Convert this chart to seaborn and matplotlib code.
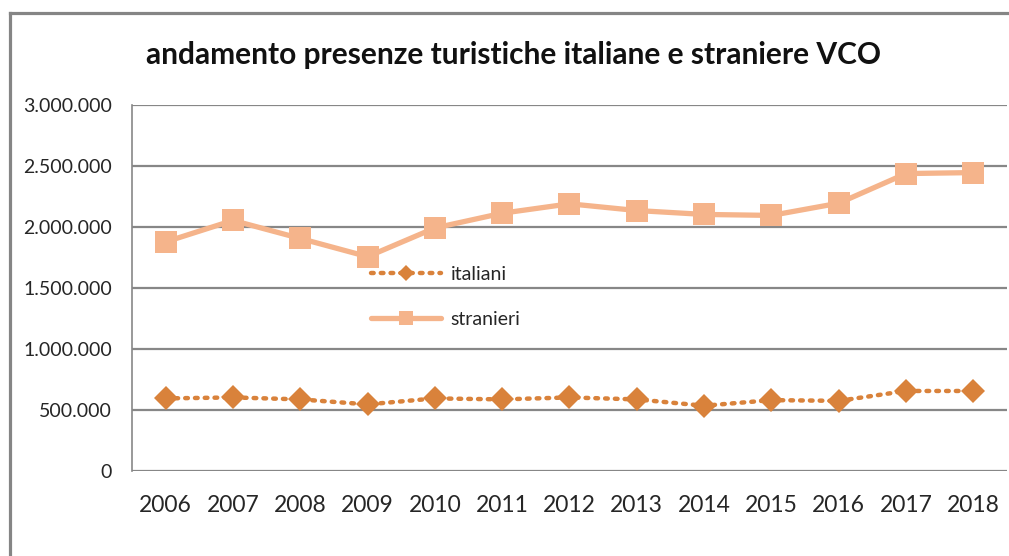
import matplotlib
matplotlib.use("Agg")
import matplotlib.pyplot as plt
from matplotlib.lines import Line2D
from matplotlib.ticker import FuncFormatter, FixedLocator
import seaborn as sns
import pandas as pd

years = [2006, 2007, 2008, 2009, 2010, 2011, 2012, 2013, 2014, 2015, 2016, 2017, 2018]
italiani = [595000, 603000, 587000, 546000, 595000, 587000, 603000, 587000, 535000, 581000, 575000, 656000, 656000]
stranieri = [1878000, 2054000, 1906000, 1757000, 1992000, 2113000, 2190000, 2135000, 2103000, 2095000, 2195000, 2438000, 2446000]
title = "andamento presenze turistiche italiane e straniere VCO"
yticks = [0, 500000, 1000000, 1500000, 2000000, 2500000, 3000000]

sns.set_theme(style="white")
plt.rcParams['font.family'] = ['Lato', 'DejaVu Sans']

c_ita = "#D9823B"
c_str = "#F5B48B"
grid_c = "#878787"

fig = plt.figure(figsize=(10.09, 5.56), dpi=100)
ax = fig.add_axes([132/1009, 1-471/556, 1-132/1009 - 2/1009, (471-105)/556])

df_i = pd.DataFrame({"anno": years, "valore": italiani})
df_s = pd.DataFrame({"anno": years, "valore": stranieri})

sns.lineplot(data=df_i, x="anno", y="valore", ax=ax, color=c_ita, linewidth=3.2,
             linestyle=(0, (0.6, 1.6)), dash_capstyle="round", marker="D", markersize=12.5,
             markeredgewidth=0, label="italiani")
sns.lineplot(data=df_s, x="anno", y="valore", ax=ax, color=c_str, linewidth=3.8,
             marker="s", markersize=16, markeredgewidth=0, label="stranieri")

ax.set_xlim(2005.5, 2018.5)
ax.set_ylim(0, 3000000)
ax.yaxis.set_major_locator(FixedLocator(yticks))
ax.yaxis.set_major_formatter(FuncFormatter(lambda v, p: f"{int(v):,}".replace(",", ".")))
ax.set_xticks(years)
ax.set_xticklabels([str(y) for y in years])
ax.grid(axis="y", color=grid_c, linewidth=1.6)
ax.set_axisbelow(True)
for s in ["top", "right", "bottom"]:
    ax.spines[s].set_visible(False)
ax.spines["left"].set_color(grid_c)
ax.spines["left"].set_linewidth(1.2)
ax.tick_params(axis="both", length=0, colors="#262626")
ax.tick_params(axis="y", pad=14.5, labelsize=14)
ax.tick_params(axis="x", pad=17, labelsize=16.5)
ax.set_xlabel("")
ax.set_ylabel("")

leg = ax.legend(loc="center left", bbox_to_anchor=(0.253, 0.475), frameon=False,
                fontsize=14, handlelength=3.6, labelspacing=1.45, handletextpad=0.5,
                markerscale=0.65)
for t in leg.get_texts():
    t.set_color("#262626")

fig.text(514/1009, 1-55/556, title, ha="center", va="center", fontsize=21.5,
         fontweight="bold", color="#111111")

x0 = 9.5/1009
y0 = 1 - 13/556
fig.add_artist(Line2D([x0, x0], [-0.01, y0], transform=fig.transFigure,
                      color="#858585", linewidth=2.3, solid_capstyle="projecting"))
fig.add_artist(Line2D([x0, 1.01], [y0, y0], transform=fig.transFigure,
                      color="#858585", linewidth=2.3, solid_capstyle="projecting"))

fig.savefig("out.png", dpi=100)
